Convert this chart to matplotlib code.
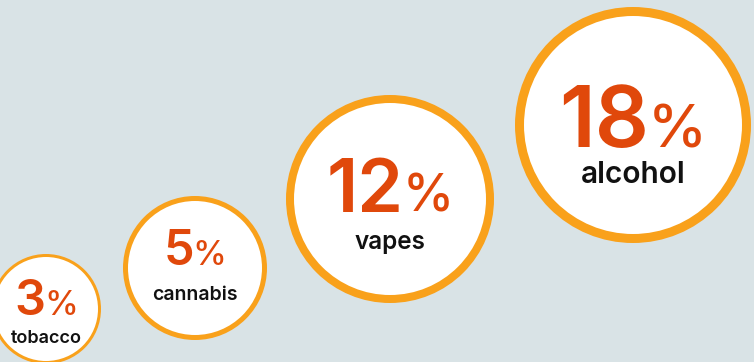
import matplotlib
matplotlib.use("Agg")
import matplotlib.pyplot as plt
from matplotlib.patches import Circle

# Data
CATEGORIES = ["tobacco", "cannabis", "vapes", "alcohol"]
VALUES     = [3, 5, 12, 18]

# Layout (pixel coordinates, y down)
CENTERS   = [(46, 309), (195, 268), (390, 199), (633, 125)]
RADII     = [53.5, 69.5, 100, 113.5]
STROKES   = [3, 5, 8, 9]          # px
NUM_SIZE  = [35, 35, 53, 61]      # pt
LAB_SIZE  = [13, 14, 17.5, 21.5]  # pt
NUM_BASE  = [315, 265, 212, 147]  # baseline y, px
LAB_BASE  = [343, 300, 249, 183]
PCT_RATIO = 0.7

BG     = "#d9e3e6"
RING   = "#f9a11b"
NUMCOL = "#e0480b"
LABCOL = "#111111"
FONT   = ["Inter", "DejaVu Sans"]

W, H = 754, 362
fig = plt.figure(figsize=(W / 100, H / 100), dpi=100)
fig.patch.set_facecolor(BG)
ax = fig.add_axes([0, 0, 1, 1])
ax.set_xlim(0, W)
ax.set_ylim(H, 0)
ax.set_aspect("equal")
ax.axis("off")

texts = []
for i, (cat, val) in enumerate(zip(CATEGORIES, VALUES)):
    cx, cy = CENTERS[i]
    ax.add_patch(Circle((cx, cy), RADII[i], facecolor="white", edgecolor=RING,
                        linewidth=STROKES[i] * 0.72, zorder=2))
    t_num = ax.text(0, NUM_BASE[i], str(val), fontsize=NUM_SIZE[i], fontweight="semibold",
                    color=NUMCOL, family=FONT, ha="left", va="baseline", zorder=3)
    t_pct = ax.text(0, NUM_BASE[i], "%", fontsize=NUM_SIZE[i] * PCT_RATIO, fontweight="medium",
                    color=NUMCOL, family=FONT, ha="left", va="baseline", zorder=3)
    ax.text(cx, LAB_BASE[i], cat, fontsize=LAB_SIZE[i], fontweight="semibold",
            color=LABCOL, family=FONT, ha="center", va="baseline", zorder=3)
    texts.append((cx, t_num, t_pct, NUM_SIZE[i]))

# centre number + percent sign as one group
fig.canvas.draw()
r = fig.canvas.get_renderer()
for cx, t_num, t_pct, size in texts:
    w1 = t_num.get_window_extent(r).width
    w2 = t_pct.get_window_extent(r).width
    gap = -size * 0.03
    left = cx - (w1 + gap + w2) / 2
    t_num.set_x(left)
    t_pct.set_x(left + w1 + gap)

fig.savefig("out.png", dpi=100, facecolor=BG)
